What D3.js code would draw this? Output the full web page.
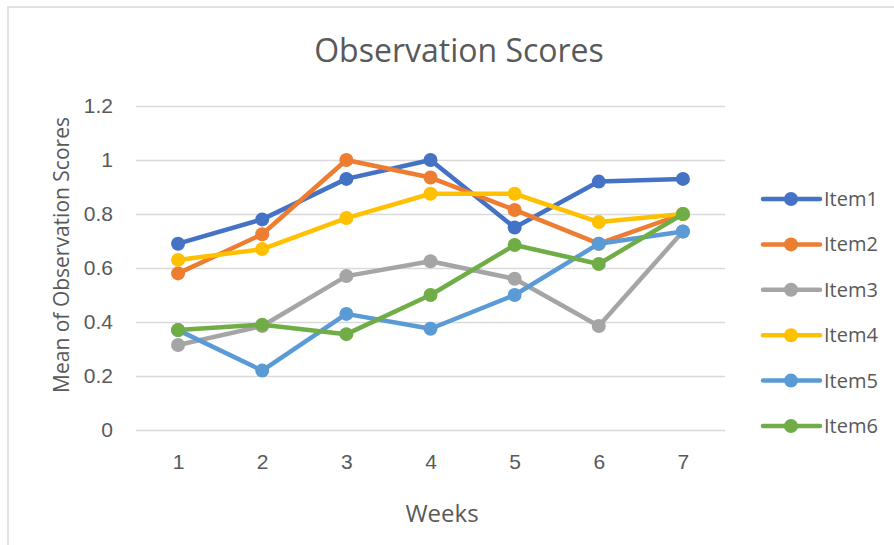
<!DOCTYPE html>
<html>
<head>
<meta charset="utf-8">
<script src="https://cdn.jsdelivr.net/npm/d3@7"></script>
<style>
  body { margin: 0; background: #fff; }
  svg { display: block; font-family: "Open Sans", sans-serif; }
</style>
</head>
<body>
<svg></svg>
<script>
const width = 894;
const height = 545;

const weeks = [1, 2, 3, 4, 5, 6, 7];
const seriesNames = ["Item1", "Item2", "Item3", "Item4", "Item5", "Item6"];
const colors = ["#4472c4", "#ed7d31", "#a5a5a5", "#ffc000", "#5b9bd5", "#70ad47"];
const item1 = [0.69, 0.78, 0.93, 1.0, 0.75, 0.92, 0.93];
const item2 = [0.58, 0.725, 1.0, 0.935, 0.815, 0.69, 0.8];
const item3 = [0.315, 0.385, 0.57, 0.625, 0.56, 0.385, 0.735];
const item4 = [0.63, 0.67, 0.785, 0.875, 0.875, 0.77, 0.8];
const item5 = [0.37, 0.22, 0.43, 0.375, 0.5, 0.69, 0.735];
const item6 = [0.37, 0.39, 0.355, 0.5, 0.685, 0.615, 0.8];
const yTicks = [0, 0.2, 0.4, 0.6, 0.8, 1, 1.2];

const series = seriesNames.map((name, i) => ({
    name: name,
    color: colors[i],
    values: [item1, item2, item3, item4, item5, item6][i]
}));

const margin = { left: 136, right: 169, top: 106, bottom: 115 };

const svg = d3.select("svg")
    .attr("width", width)
    .attr("height", height);

// chart border
svg.append("rect")
    .attr("x", 8)
    .attr("y", 7)
    .attr("width", width)
    .attr("height", height)
    .attr("fill", "none")
    .attr("stroke", "#d9d9d9")
    .attr("stroke-width", 1.5);

const xScale = d3.scalePoint()
    .domain(weeks)
    .range([margin.left, width - margin.right])
    .padding(0.5);

const yScale = d3.scaleLinear()
    .domain([0, 1.2])
    .range([height - margin.bottom, margin.top]);

const yAxis = d3.axisLeft(yScale)
    .tickValues(yTicks)
    .tickSize(-(width - margin.left - margin.right))
    .tickPadding(23)
    .tickFormat(d => d3.format("~g")(d));

svg.append("g")
    .attr("id", "y-axis")
    .attr("transform", `translate(${margin.left}, 0)`)
    .call(yAxis)
    .call(g => g.select(".domain").remove())
    .call(g => g.selectAll("line").attr("stroke", "#d9d9d9").attr("stroke-width", 1.5))
    .call(g => g.selectAll("text").attr("fill", "#595959").style("font-size", "21px"));

const xAxis = d3.axisBottom(xScale)
    .tickSize(0)
    .tickPadding(24);

svg.append("g")
    .attr("id", "x-axis")
    .attr("transform", `translate(0, ${height - margin.bottom})`)
    .call(xAxis)
    .call(g => g.select(".domain").remove())
    .call(g => g.selectAll("text").attr("fill", "#595959").style("font-size", "21px"));

// title & axis titles
svg.append("text")
    .attr("x", 459)
    .attr("y", 62)
    .attr("text-anchor", "middle")
    .attr("fill", "#595959")
    .style("font-size", "32px")
    .text("Observation Scores");

svg.append("text")
    .attr("x", 442)
    .attr("y", 522)
    .attr("text-anchor", "middle")
    .attr("fill", "#595959")
    .style("font-size", "24px")
    .text("Weeks");

svg.append("text")
    .attr("transform", "translate(69, 255) rotate(-90)")
    .attr("text-anchor", "middle")
    .attr("fill", "#595959")
    .style("font-size", "21px")
    .text("Mean of Observation Scores");

const line = d3.line()
    .x((d, i) => xScale(weeks[i]))
    .y(d => yScale(d));

const groups = svg.selectAll(".series")
    .data(series)
    .enter()
    .append("g")
    .attr("class", "series");

groups.append("path")
    .attr("d", d => line(d.values))
    .attr("fill", "none")
    .attr("stroke", d => d.color)
    .attr("stroke-width", 4.5)
    .attr("stroke-linejoin", "round");

groups.selectAll("circle")
    .data(d => d.values.map((v, i) => ({ v: v, i: i, color: d.color })))
    .enter()
    .append("circle")
    .attr("cx", d => xScale(weeks[d.i]))
    .attr("cy", d => yScale(d.v))
    .attr("r", 7)
    .attr("fill", d => d.color);

// legend
const legendY = d3.scalePoint()
    .domain(seriesNames)
    .range([199, 426]);

const legend = svg.append("g")
    .attr("id", "legend");

const rows = legend.selectAll("g")
    .data(series)
    .enter()
    .append("g")
    .attr("transform", d => `translate(763, ${legendY(d.name)})`);

rows.append("line")
    .attr("x1", 0)
    .attr("x2", 57)
    .attr("stroke", d => d.color)
    .attr("stroke-width", 4.5)
    .attr("stroke-linecap", "round");

rows.append("circle")
    .attr("cx", 28)
    .attr("r", 7)
    .attr("fill", d => d.color);

rows.append("text")
    .attr("x", 61)
    .attr("dy", "0.35em")
    .attr("fill", "#595959")
    .style("font-size", "20px")
    .text(d => d.name);
</script>
</body>
</html>
